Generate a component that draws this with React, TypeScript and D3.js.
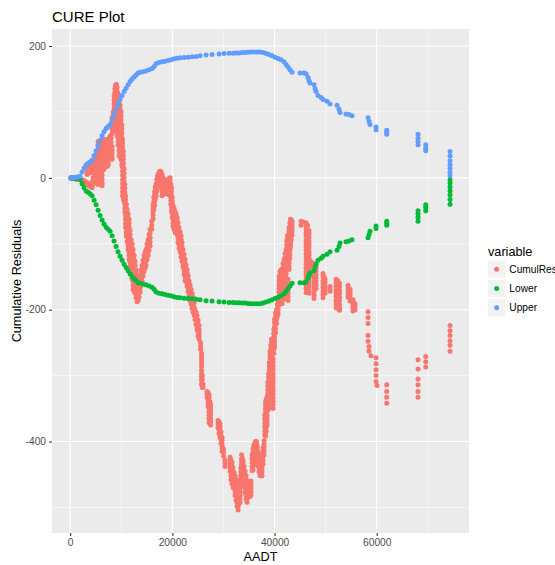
import React, { useEffect, useRef } from 'react';
import * as d3 from 'd3';

type Group = [number, number[]];

// cumulative residuals, grouped by AADT (several observations share a value)
const cumulResGroups: Group[] = [
  [150, [0, -1]], [370, [0, -1]], [560, [0]], [760, [-1]], [960, [-1]], [1150, [-1, -2]], [1350, [-2]],
  [1550, [-2]], [1750, [-2]], [1940, [-2, -3]], [2140, [-3]], [2330, [-3, -5]], [2530, [-4]],
  [2720, [-4, -7]], [2920, [-6]], [3110, [-7, -9]], [3310, [20, 15, 10, 5, -8]], [3500, [-10, 16, 11, 6]],
  [3700, [-12, 18, 13, 8]], [3890, [-13, -8]], [4090, [23, 18, 13, 8]], [4290, [-15, -10]],
  [4480, [-10, -5, 0]], [4680, [22, 17, 12, 7, 2, -3]], [4870, [28, 23, 18, 13, 8]],
  [5070, [35, 30, 25, 20, 15, 10, 5]], [5260, [40, 34, 28, 22, 16, 10, 4, -2, -8]],
  [5460, [55, 49, 43, 37, 31, 25, 19, 13, 7, 1, -5, -10]], [5650, [54, 48, 42, 36, 30, 24, 18, 12, 6, 0, -6]],
  [5850, [54, 48, 42, 36, 30, 24, 18, 12, 6, 0, -6]], [6040, [56, 50, 44, 38, 32, 26, 20, 14, 8, 2, -4, -10]],
  [6240, [58, 52, 46, 40, 34, 28, 22, 16, 10, 4, -2, -8, -12]], [6430, [57, 51, 45, 39, 33, 27, 21, 15]],
  [6630, [55, 49, 43, 37, 31, 25, 19, 13]], [6830, [58, 52, 46, 40, 34, 28]],
  [7030, [58, 52, 46, 40, 34, 28, 22]], [7220, [52, 46, 40, 34, 28, 22, 17]],
  [7420, [49, 43, 38, 33, 28, 23, 19]], [7610, [60, 54, 48, 43, 38, 33, 28]], [7810, [63, 57, 51, 45, 40]],
  [8000, [60, 54, 48, 42, 36, 30]], [8140, [66]], [8200, [91, 85, 79, 73, 47, 42, 37, 32, 28]],
  [8400, [100, 94, 88, 82, 76, 70]], [8590, [124, 118, 112, 106, 100, 94, 88, 82, 76]],
  [8740, [135, 129, 123, 117, 111, 105]], [8880, [140, 134, 128, 122, 116, 110, 104, 98, 92]],
  [9030, [142, 136, 130, 124, 118, 112, 106, 100, 94, 88, 82]],
  [9180, [137, 131, 125, 119, 113, 107, 101, 95, 89, 83, 77, 71, 64]],
  [9370, [128, 122, 116, 110, 104, 98, 92, 86, 80, 74, 68, 62, 56, 50]],
  [9570, [119, 113, 107, 101, 95, 89, 83, 77, 71, 65, 59, 53, 47, 41, 34]],
  [9760, [110, 104, 98, 92, 86, 80, 74, 68, 62, 56, 50, 44, 38, 32]],
  [9960, [100, 94, 88, 82, 76, 70, 64, 58, 52, 46, 40, 34, 28]],
  [10100, [80, 74, 68, 62, 56, 50, 44, 38, 32, 26, 20]],
  [10250, [58, 52, 46, 40, 34, 28, 22, 16, 10, 4, -3, -9, -15, -21, -27]],
  [10400, [40, 34, 28, 22, 16, 10, 4, -2, -8, -14, -20, -26, -32]],
  [10550, [13, 7, 0, -6, -12, -18, -24, -30, -36]], [10700, [-10, -16, -22, -28, -34, -40, -46, -52]],
  [10840, [-27, -33, -39, -45, -51, -57, -63, -69, -75]], [10990, [-40, -46, -52, -58, -64, -70, -76, -82, -88]],
  [11140, [-48, -54, -60, -66, -72, -78, -84, -90, -97]],
  [11340, [-55, -61, -67, -73, -79, -85, -91, -97, -103, -109]],
  [11530, [-63, -69, -75, -81, -88, -94, -100, -106, -112, -118, -124]],
  [11730, [-80, -86, -92, -98, -104, -110, -116, -122, -128, -134]],
  [11920, [-94, -100, -106, -112, -118, -124, -130, -136, -142]],
  [12120, [-100, -106, -112, -118, -124, -130, -136, -142, -148, -154]],
  [12310, [-109, -115, -121, -127, -133, -139, -145, -151, -157, -163, -169]],
  [12500, [-118, -124, -130, -136, -142, -148, -154, -160, -166, -172]],
  [12700, [-127, -133, -139, -145, -151, -157, -163, -169, -175]],
  [12900, [-140, -146, -152, -158, -164, -170, -176, -182]], [13090, [-151, -157, -163, -169, -175, -181, -188]],
  [13290, [-150, -156, -162, -168, -174, -180, -186]], [13480, [-157, -163, -169, -175, -181]],
  [13680, [-148, -154, -161, -167, -173]], [13870, [-140, -146, -152, -158, -164]],
  [14070, [-133, -139, -145, -151, -157]], [14260, [-125, -131, -137, -143, -149]],
  [14460, [-118, -124, -130, -136, -142]], [14650, [-113, -119, -125, -131, -137]],
  [14850, [-109, -115, -121, -127, -133]], [15050, [-100, -106, -112, -118, -124]],
  [15250, [-94, -100, -106, -112, -118]], [15440, [-86, -92, -98, -104, -110]],
  [15640, [-78, -84, -91, -97, -103]], [15970, [-66, -72, -78]], [16220, [-41, -46, -51, -56, -62]],
  [16370, [-30, -36, -42, -48]], [16520, [-21, -26, -31, -36, -42]], [16660, [-14, -20, -26, -32]],
  [16810, [-9, -14, -18, -23, -28]], [16960, [-2, -8, -14, -20]], [17100, [3, -2, -6, -10, -15]],
  [17250, [6, 1, -4, -9, -14]], [17400, [8, 3, -1, -6, -12]], [17550, [10, 5, 0, -5]],
  [17690, [10, 5, 0, -5]], [17830, [8, 3, -2, -8, -14]], [17980, [5, 0, -6, -11, -16, -21, -27]],
  [18180, [0, -5, -10, -15, -20, -25]], [18380, [-3, -8, -13, -18, -24]], [18570, [-6, -11, -16, -21]],
  [18770, [-9, -14, -19, -24]], [18960, [-6, -11, -16, -21]], [19160, [-3, -8, -12, -16, -21]],
  [19350, [-1, -6, -11, -16, -21, -26]], [19550, [0, -5, -9, -14, -18, -23, -27]],
  [19700, [-10, -16, -22, -28, -34, -40]], [19840, [-15, -21, -27, -33, -39, -45, -51]],
  [19990, [-30, -36, -42, -48, -54, -60]], [20140, [-42, -48, -53, -58, -63, -69, -74]],
  [20330, [-46, -52, -57, -62, -67, -72, -78]], [20530, [-51, -57, -62, -67, -72, -77, -83]],
  [20720, [-55, -60, -66, -71, -76, -81]], [20920, [-60, -65, -71, -76, -81, -86]],
  [21110, [-68, -74, -80, -86, -92, -98]], [21310, [-76, -81, -87, -92, -97, -102, -107]],
  [21500, [-82, -88, -94, -100, -106, -112]], [21700, [-88, -93, -98, -104, -109, -114, -120]],
  [21890, [-98, -104, -110, -116, -122, -126]], [22090, [-109, -114, -120, -125, -130, -135]],
  [22290, [-116, -122, -128, -134, -140, -146]], [22490, [-124, -130, -135, -140, -145, -150, -156]],
  [22680, [-132, -138, -144, -150, -156]], [22880, [-139, -144, -150, -155, -160, -165]],
  [23070, [-148, -154, -160, -166, -172]], [23270, [-157, -162, -168, -173, -178]],
  [23460, [-163, -169, -175, -181, -186]], [23660, [-169, -175, -180, -186, -191]],
  [23860, [-175, -181, -187, -193, -198]], [24050, [-181, -186, -192, -197, -203]],
  [24250, [-190, -196, -202, -208]], [24440, [-200, -205, -210, -215]], [24640, [-204, -210, -216, -222]],
  [24830, [-209, -214, -219, -225, -230]], [25030, [-216, -222, -228, -234, -240]],
  [25230, [-224, -230, -235, -240, -245]], [25520, [-250, -255, -260]],
  [25710, [-266, -271, -276, -281, -286, -292, -297, -302, -307, -313]], [25860, [-300, -306, -312, -318]],
  [26010, [-313, -318]], [26790, [-324, -328, -333]], [26990, [-326, -331, -336, -341, -346]],
  [27180, [-329, -334, -339, -344, -350, -355, -360, -365, -371]],
  [27330, [-340, -345, -350, -355, -360, -366, -372]], [27480, [-344, -349, -354, -359, -365, -370, -375]],
  [28940, [-368, -373, -379]], [29130, [-370, -376, -382, -388]], [29330, [-373, -378, -384, -389, -394]],
  [29530, [-385, -391, -397, -403]], [29730, [-394, -399, -405, -410, -415]], [30020, [-411, -416, -422]],
  [30310, [-428, -433, -438]], [31290, [-424, -429, -435, -440, -445]],
  [31480, [-428, -434, -440, -446, -452, -458]], [31680, [-432, -437, -443, -448, -453, -458, -464]],
  [31880, [-440, -446, -452, -458, -464, -470]], [32080, [-447, -452, -458, -463, -469]],
  [32270, [-452, -458, -464, -470, -476, -482]], [32470, [-457, -462, -467, -472, -478, -483, -489]],
  [32660, [-468, -474, -480, -486, -492, -498]], [32860, [-478, -483, -489, -494, -499, -504]],
  [33050, [-470, -476, -482, -488, -494]], [33250, [-460, -465, -470, -476, -481, -486, -492]],
  [33400, [-440, -446, -452, -458, -464]], [33540, [-420, -426, -431, -436, -442, -447, -452]],
  [33690, [-425, -431, -437, -443, -449]], [33840, [-430, -435, -441, -446, -452]],
  [34030, [-438, -444, -450, -456, -462, -468]], [34230, [-445, -450, -456, -461, -466, -471, -477]],
  [34420, [-452, -458, -464, -470, -476, -482, -488]], [34620, [-460, -465, -470, -476, -481, -486, -492]],
  [34810, [-460, -466, -472, -478, -484]], [35010, [-463, -468, -474, -479, -484]],
  [35200, [-462, -467, -473, -478, -483]], [35400, [-460, -465, -470, -476, -481]],
  [35600, [-420, -426, -432, -438, -444]], [35790, [-411, -416, -422, -427, -433, -438, -443]],
  [35940, [-406, -412, -418, -424, -430, -436]], [36090, [-403, -408, -414, -419, -424, -430, -435]],
  [36280, [-400, -406, -412, -418]], [36480, [-400, -405, -411]], [36620, [-408, -414, -420, -426]],
  [36770, [-415, -420, -426, -431, -437]], [36960, [-422, -428, -434, -440, -446]],
  [37160, [-430, -435, -441, -446, -452]], [37350, [-424, -430, -436, -442, -448]],
  [37550, [-420, -425, -431, -436, -441, -446, -452]], [37750, [-410, -416, -422, -428, -434]],
  [37950, [-399, -404, -409, -414, -420]], [38090, [-360, -366, -372, -378, -384, -390]],
  [38240, [-340, -345, -350, -355, -361, -366, -371, -376, -382, -387, -392]],
  [38380, [-336, -342, -348, -354, -360, -366, -372, -378, -384]],
  [38530, [-333, -338, -344, -349, -354, -360, -365, -370, -375]],
  [38680, [-310, -316, -322, -328, -334, -340, -346, -352]],
  [38830, [-297, -302, -308, -313, -318, -324, -329, -334, -340, -345, -350]],
  [38970, [-280, -286, -292, -298, -304, -310, -316, -322, -328, -334]],
  [39120, [-264, -269, -275, -280, -285, -291, -296, -301, -306, -312, -317, -322, -328]],
  [39270, [-254, -260, -266, -272, -278, -284, -290, -296, -302]],
  [39410, [-245, -250, -256, -261, -266, -272, -277, -282, -288]],
  [39560, [-260, -266, -272, -278, -284, -290, -296, -302, -308, -314, -320]],
  [39710, [-275, -280, -286, -291, -297, -302, -307, -312, -318, -323, -328, -334, -339, -344, -350]],
  [39850, [-230, -236, -242, -248, -254, -260, -266]],
  [40000, [-215, -220, -226, -231, -236, -241, -247, -252, -257]],
  [40190, [-205, -211, -217, -223, -229, -235]], [40390, [-200, -205, -210, -215, -221]],
  [40540, [-192, -198, -204, -210]], [40690, [-184, -190, -195, -200, -206]],
  [40880, [-150, -156, -162, -168, -174, -180, -186, -192]],
  [41080, [-142, -147, -153, -158, -163, -168, -173, -178, -184, -189]],
  [41270, [-140, -146, -152, -158, -164, -170, -176, -182, -188]],
  [41470, [-139, -144, -150, -155, -160, -165, -170, -175, -180, -186, -191]],
  [41660, [-130, -136, -142, -148, -154, -160, -166, -172, -178]],
  [41860, [-124, -129, -135, -140, -145, -150, -156, -161, -167, -173, -178, -184]],
  [42050, [-115, -121, -127, -133, -139, -145, -151, -157, -163]],
  [42250, [-109, -114, -120, -125, -130, -135, -141, -146, -151, -157, -162, -167]],
  [42400, [-95, -101, -107, -113, -119]], [42550, [-87, -92, -98, -103, -109]],
  [42640, [-154, -160, -165, -170, -175, -180, -186]],
  [42840, [-76, -81, -87, -92, -97, -102, -108, -113, -118, -123, -129, -134, -139]],
  [42990, [-68, -74, -80, -86, -92, -98, -104, -110, -116, -122]],
  [43130, [-63, -68, -74, -79, -84, -90, -95, -100, -105]], [43280, [-64, -70, -76, -82, -88, -94]],
  [43430, [-66, -71, -76, -81, -87]], [45190, [-66, -72]], [45580, [-67]],
  [46170, [-68, -74, -79, -84, -89, -95, -100, -105, -110, -116, -121, -126, -132, -137, -142, -147, -153, -158, -163, -168, -174]],
  [46460, [-72, -78, -84, -90, -96, -102, -108, -114, -120, -126, -132, -138, -144, -150, -156, -162, -168, -174]],
  [46750, [-80, -85, -90, -96, -101, -106, -112, -117, -122, -128, -133, -138, -143, -149, -154, -159, -164, -170, -175]],
  [47140, [-127, -132, -137, -143, -148]], [47730, [-130, -135, -141, -146, -151, -157, -162, -167, -173, -178, -183]],
  [48120, [-136, -141, -147, -152, -157, -163, -168]], [49490, [-145, -150, -156, -161, -166, -172, -177, -182]],
  [49690, [-150, -156, -162, -168, -174]], [49880, [-154, -159, -165, -170, -175]], [50860, [-165, -169, -172]],
  [52040, [-154, -159, -165, -170, -175, -180, -186, -191, -197]],
  [52380, [-156, -162, -168, -174, -180, -186, -192, -198]],
  [52720, [-160, -165, -171, -176, -181, -186, -192, -197, -201]], [54390, [-163, -168, -172, -177, -181]],
  [54780, [-169, -174, -178, -183, -187]], [55360, [-185, -190, -194, -198, -202]], [55750, [-191, -196, -200]],
  [58300, [-203, -212, -221, -239, -248]], [58490, [-256, -263]], [58890, [-270]],
  [59860, [-273, -282, -291, -300, -309]], [60060, [-315]], [61960, [-314, -324, -333, -342]],
  [68080, [-276, -290, -305, -314, -324, -333]], [69590, [-271, -279, -287]],
  [74350, [-224, -232, -239, -247, -254, -263]],
];

const upperGroups: Group[] = [
  [150, [0]], [370, [0.5]], [760, [0.5]], [1150, [1]], [1550, [1.5]], [1940, [2]], [2330, [9]],
  [2720, [15]], [3110, [20]], [3500, [22]], [3890, [24]], [4290, [27]], [4680, [34]], [5070, [41]],
  [5460, [49]], [5850, [57]], [6240, [64]], [6630, [70]], [7030, [75]], [7420, [78]], [7810, [81]],
  [8200, [88]], [8590, [96]], [8980, [104]], [9370, [112]], [9770, [119]], [10160, [125]],
  [10550, [131]], [10940, [136]], [11330, [141]], [11720, [146]], [12110, [150]], [12500, [153]],
  [12900, [156]], [13290, [159]], [13680, [160]], [14260, [161]], [14850, [162]], [15440, [164]],
  [16030, [166]], [16420, [169]], [16810, [173]], [17400, [175]], [17990, [176]], [18570, [177]],
  [19160, [178]], [19750, [179]], [20330, [180.5]], [20920, [181.5]], [21510, [182]],
  [22290, [182.5]], [23070, [183]], [23860, [183.5]], [24640, [184]], [25420, [185]],
  [26600, [186.5]], [27770, [187]], [29140, [188]], [30120, [188.5]], [31100, [189]],
  [31880, [189]], [32470, [189.5]], [33050, [189.5]], [33640, [190]], [34230, [190]],
  [34820, [190.5]], [35400, [191]], [35990, [191]], [36580, [191]], [37160, [191]],
  [37750, [190]], [38340, [188.5]], [38930, [187]], [39510, [185]], [40100, [183]],
  [40690, [181]], [41280, [179]], [41860, [176]], [42250, [172]], [42640, [168]], [43030, [164]],
  [43430, [160]], [44990, [159]], [45770, [159]], [46170, [158]], [46560, [152]], [46750, [147]],
  [46950, [144]], [47730, [141]], [47930, [135]], [48120, [131]], [48510, [125]], [49100, [122]],
  [49490, [119]], [50270, [116]], [50860, [112]], [52230, [110]], [52620, [104]], [52820, [99]],
  [53990, [97]], [54580, [96]], [55160, [94]], [58300, [91]], [58490, [86]], [58690, [81]],
  [59860, [77, 73]], [61960, [72, 69, 66]], [68080, [66, 60, 55, 50]], [69590, [50, 45, 41]],
  [74350, [40, 33, 26, 20, 14, 8, 3]],
];

const lowerGroups: Group[] = [
  [150, [0]], [370, [-0.5]], [760, [-0.5]], [1150, [-1]], [1550, [-1.5]], [1940, [-2]], [2330, [-9]],
  [2720, [-15]], [3110, [-20]], [3500, [-22]], [3890, [-24]], [4290, [-27]], [4680, [-34]],
  [5070, [-41]], [5460, [-49]], [5850, [-57]], [6240, [-64]], [6630, [-70]], [7030, [-75]],
  [7420, [-78]], [7810, [-81]], [8200, [-88]], [8590, [-96]], [8980, [-104]], [9370, [-112]],
  [9770, [-119]], [10160, [-125]], [10550, [-131]], [10940, [-136]], [11330, [-141]],
  [11720, [-146]], [12110, [-150]], [12500, [-153]], [12900, [-156]], [13290, [-159]],
  [13680, [-160]], [14260, [-161]], [14850, [-162]], [15440, [-164]], [16030, [-166]],
  [16420, [-169]], [16810, [-173]], [17400, [-175]], [17990, [-176]], [18570, [-177]],
  [19160, [-178]], [19750, [-179]], [20330, [-180.5]], [20920, [-181.5]], [21510, [-182]],
  [22290, [-182.5]], [23070, [-183]], [23860, [-183.5]], [24640, [-184]], [25420, [-185]],
  [26600, [-186.5]], [27770, [-187]], [29140, [-188]], [30120, [-188.5]], [31100, [-189]],
  [31880, [-189]], [32470, [-189.5]], [33050, [-189.5]], [33640, [-190]], [34230, [-190]],
  [34820, [-190.5]], [35400, [-191]], [35990, [-191]], [36580, [-191]], [37160, [-191]],
  [37750, [-190]], [38340, [-188.5]], [38930, [-187]], [39510, [-185]], [40100, [-183]],
  [40690, [-181]], [41280, [-179]], [41860, [-176]], [42250, [-172]], [42640, [-168]],
  [43030, [-164]], [43430, [-160]], [44990, [-159]], [45770, [-159]], [46170, [-158]],
  [46560, [-152]], [46750, [-147]], [46950, [-144]], [47730, [-141]], [47930, [-135]],
  [48120, [-131]], [48510, [-125]], [49100, [-122]], [49490, [-119]], [50270, [-116]],
  [50860, [-112]], [52230, [-110]], [52620, [-104]], [52820, [-99]], [53990, [-97]],
  [54580, [-96]], [55160, [-94]], [58300, [-91]], [58490, [-86]], [58690, [-81]],
  [59860, [-77, -73]], [61960, [-72, -69, -66]], [68080, [-66, -60, -55, -50]],
  [69590, [-50, -45, -41]], [74350, [-40, -33, -26, -20, -14, -8, -3]],
];

const seriesNames = ['CumulRes', 'Lower', 'Upper'];
const seriesColors = ['#F8766D', '#00BA38', '#619CFF'];
const xTicks = [0, 20000, 40000, 60000];
const xMinor = [10000, 30000, 50000, 70000];
const yTicks = [-400, -200, 0, 200];
const yMinor = [-500, -300, -100, 100];

const FONT = '"Liberation Sans", Arial, sans-serif';

const App: React.FC = () => {
  const svgRef = useRef<SVGSVGElement>(null);

  useEffect(() => {
    if (!svgRef.current) return;
    const svg = d3.select(svgRef.current);
    svg.selectAll('*').remove();

    const width = 555;
    const height = 565;
    const panel = { left: 52, right: 469, top: 29, bottom: 533 };

    const flatten = (groups: Group[]) =>
      groups.flatMap(([a, vals]) => vals.map(v => ({ aadt: a, value: v })));
    const series = [cumulResGroups, lowerGroups, upperGroups].map(flatten);
    const all = series.flat();

    // ggplot style 5% expansion
    const xExt = d3.extent(all, d => d.aadt) as [number, number];
    const yExt = d3.extent(all, d => d.value) as [number, number];
    const xPad = (xExt[1] - xExt[0]) * 0.05;
    const yPad = (yExt[1] - yExt[0]) * 0.05;

    const x = d3.scaleLinear()
      .domain([xExt[0] - xPad, xExt[1] + xPad])
      .range([panel.left, panel.right]);
    const y = d3.scaleLinear()
      .domain([yExt[0] - yPad, yExt[1] + yPad])
      .range([panel.bottom, panel.top]);

    svg.attr('width', width).attr('height', height);

    svg.append('rect')
      .attr('x', panel.left)
      .attr('y', panel.top)
      .attr('width', panel.right - panel.left)
      .attr('height', panel.bottom - panel.top)
      .attr('fill', '#EBEBEB');

    const grid = svg.append('g');
    grid.selectAll('.xminor').data(xMinor).enter().append('line')
      .attr('x1', d => x(d)).attr('x2', d => x(d))
      .attr('y1', panel.top).attr('y2', panel.bottom)
      .attr('stroke', '#fff').attr('stroke-width', 0.55);
    grid.selectAll('.yminor').data(yMinor).enter().append('line')
      .attr('x1', panel.left).attr('x2', panel.right)
      .attr('y1', d => y(d)).attr('y2', d => y(d))
      .attr('stroke', '#fff').attr('stroke-width', 0.55);
    grid.selectAll('.xmajor').data(xTicks).enter().append('line')
      .attr('x1', d => x(d)).attr('x2', d => x(d))
      .attr('y1', panel.top).attr('y2', panel.bottom)
      .attr('stroke', '#fff').attr('stroke-width', 1.1);
    grid.selectAll('.ymajor').data(yTicks).enter().append('line')
      .attr('x1', panel.left).attr('x2', panel.right)
      .attr('y1', d => y(d)).attr('y2', d => y(d))
      .attr('stroke', '#fff').attr('stroke-width', 1.1);

    // points: CumulRes first, then bounds on top
    series.forEach((pts, i) => {
      svg.append('g').selectAll('circle')
        .data(pts)
        .enter().append('circle')
        .attr('cx', d => x(d.aadt))
        .attr('cy', d => y(d.value))
        .attr('r', 2.5)
        .attr('fill', seriesColors[i]);
    });

    // axes
    const xAxis = svg.append('g')
      .attr('transform', `translate(0, ${panel.bottom})`)
      .call(d3.axisBottom(x).tickValues(xTicks).tickSize(3).tickPadding(3).tickFormat(d3.format('d')));
    xAxis.select('.domain').remove();
    xAxis.selectAll('line').attr('stroke', '#333333').attr('stroke-width', 1.07);
    xAxis.selectAll('text')
      .attr('fill', '#4D4D4D')
      .style('font-family', FONT)
      .style('font-size', '10.2px');

    const yAxis = svg.append('g')
      .attr('transform', `translate(${panel.left}, 0)`)
      .call(d3.axisLeft(y).tickValues(yTicks).tickSize(3).tickPadding(3).tickFormat(d3.format('d')));
    yAxis.select('.domain').remove();
    yAxis.selectAll('line').attr('stroke', '#333333').attr('stroke-width', 1.07);
    yAxis.selectAll('text')
      .attr('fill', '#4D4D4D')
      .style('font-family', FONT)
      .style('font-size', '10.2px')
      .text(d => (d as number) < 0 ? `-${Math.abs(d as number)}` : `${d}`);

    // titles
    svg.append('text')
      .attr('x', panel.left)
      .attr('y', 22)
      .attr('font-family', FONT)
      .attr('font-size', '15px')
      .attr('fill', '#000')
      .text('CURE Plot');

    svg.append('text')
      .attr('x', (panel.left + panel.right) / 2)
      .attr('y', 561)
      .attr('text-anchor', 'middle')
      .attr('font-family', FONT)
      .attr('font-size', '12.7px')
      .attr('fill', '#000')
      .text('AADT');

    svg.append('text')
      .attr('transform', `translate(21, ${(panel.top + panel.bottom) / 2}) rotate(-90)`)
      .attr('text-anchor', 'middle')
      .attr('font-family', FONT)
      .attr('font-size', '12.7px')
      .attr('fill', '#000')
      .text('Cumulative Residuals');

    // legend
    const legend = svg.append('g').attr('transform', 'translate(488, 0)');
    legend.append('text')
      .attr('x', 0)
      .attr('y', 256)
      .attr('font-family', FONT)
      .attr('font-size', '12.7px')
      .attr('fill', '#000')
      .text('variable');

    const keySize = 17.3;
    const keyTop = 260.5;
    seriesNames.forEach((name, i) => {
      const ky = keyTop + i * (keySize + 2);
      legend.append('rect')
        .attr('x', 0).attr('y', ky)
        .attr('width', keySize).attr('height', keySize)
        .attr('fill', '#F2F2F2');
      legend.append('circle')
        .attr('cx', keySize / 2).attr('cy', ky + keySize / 2)
        .attr('r', 2.5)
        .attr('fill', seriesColors[i]);
      legend.append('text')
        .attr('x', keySize + 4)
        .attr('y', ky + keySize / 2)
        .attr('dy', '0.35em')
        .attr('font-family', FONT)
        .attr('font-size', '10.2px')
        .attr('fill', '#000')
        .text(name);
    });
  }, []);

  return (
    <svg ref={svgRef} style={{ position: 'absolute', left: 0, top: 0, background: '#fff' }}></svg>
  );
};

export default App;
